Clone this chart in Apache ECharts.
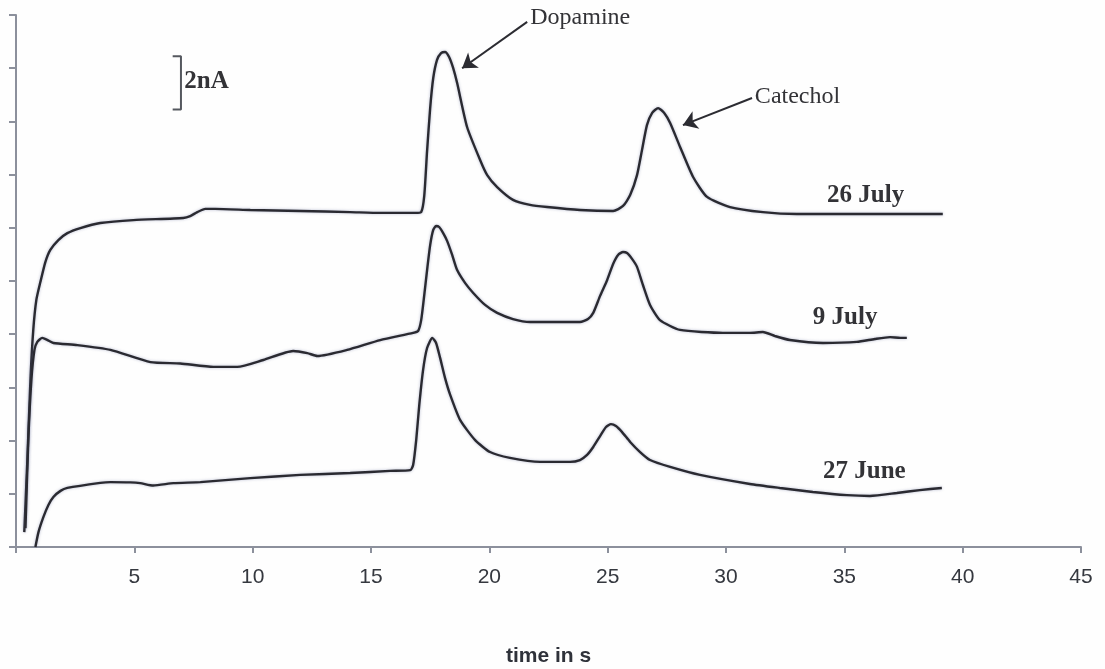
<!DOCTYPE html>
<html>
<head>
<meta charset="utf-8">
<script src="https://cdn.jsdelivr.net/npm/echarts@6/dist/echarts.min.js"></script>
<style>
  html, body { margin: 0; padding: 0; background: #fefefe; }
  #chart { width: 1105px; height: 669px; }
</style>
</head>
<body>
<div id="chart"></div>
<script>
// Chromatograms: detector current (nA) against time (s), three measurement days.
const xTicks = [0, 5, 10, 15, 20, 25, 30, 35, 40, 45];

const july26 = [
  [0.35, 0.56], [0.48, 3.27], [0.61, 6.28], [0.73, 8.16], [0.86, 9.29], [1.03, 9.96],
  [1.24, 10.71], [1.45, 11.17], [1.79, 11.54], [2.17, 11.80], [2.72, 11.99], [3.56, 12.18],
  [4.96, 12.29], [7.07, 12.37], [7.36, 12.44], [7.66, 12.59], [8.00, 12.71], [8.42, 12.71],
  [9.90, 12.67], [12.01, 12.63], [14.12, 12.59], [15.39, 12.56], [16.87, 12.56], [17.12, 12.59],
  [17.25, 13.20], [17.37, 14.89], [17.50, 16.50], [17.63, 17.63], [17.79, 18.31], [17.96, 18.57],
  [18.13, 18.61], [18.30, 18.42], [18.47, 18.01], [18.64, 17.44], [19.06, 15.79], [19.61, 14.55],
  [19.91, 13.98], [20.33, 13.53], [21.00, 13.05], [21.72, 12.86], [22.44, 12.78], [23.83, 12.67],
  [25.23, 12.63], [25.65, 12.82], [25.95, 13.23], [26.24, 13.98], [26.45, 14.92], [26.66, 15.86],
  [26.88, 16.32], [27.13, 16.50], [27.39, 16.32], [27.64, 15.94], [28.06, 15.04], [28.61, 13.91],
  [29.20, 13.16], [30.17, 12.78], [31.56, 12.59], [33.00, 12.52], [39.16, 12.52]
];

const july9 = [
  [0.40, 0.71], [0.52, 4.02], [0.65, 6.28], [0.78, 7.41], [0.90, 7.71], [1.11, 7.86],
  [1.33, 7.78], [1.58, 7.67], [2.59, 7.59], [3.99, 7.41], [5.68, 6.95], [6.94, 6.90],
  [8.34, 6.77], [9.35, 6.77], [10.45, 7.03], [11.71, 7.37], [12.31, 7.29], [12.73, 7.18],
  [13.99, 7.41], [15.39, 7.78], [16.78, 8.05], [16.99, 8.12], [17.12, 8.53], [17.25, 9.47],
  [17.37, 10.41], [17.50, 11.35], [17.63, 11.92], [17.75, 12.07], [17.88, 12.03], [18.05, 11.80],
  [18.22, 11.50], [18.43, 10.98], [18.64, 10.41], [18.98, 9.92], [19.32, 9.55], [19.82, 9.10],
  [20.33, 8.80], [21.00, 8.57], [21.72, 8.46], [23.83, 8.46], [24.17, 8.57], [24.39, 8.80],
  [24.68, 9.44], [24.98, 10.04], [25.23, 10.64], [25.44, 10.98], [25.65, 11.09], [25.82, 11.05],
  [26.03, 10.83], [26.24, 10.53], [26.49, 9.85], [26.79, 9.10], [27.21, 8.53], [28.06, 8.16],
  [29.87, 8.05], [31.01, 8.05], [31.56, 8.08], [32.07, 7.93], [32.70, 7.78], [34.10, 7.67],
  [35.53, 7.71], [36.29, 7.82], [36.93, 7.89], [37.36, 7.86], [37.64, 7.86]
];

const june27 = [
  [0.82, 0.00], [0.95, 0.56], [1.16, 1.13], [1.37, 1.58], [1.58, 1.88], [1.88, 2.11],
  [2.17, 2.22], [3.56, 2.41], [3.99, 2.44], [4.83, 2.43], [5.25, 2.40], [5.80, 2.31],
  [6.65, 2.40], [7.79, 2.44], [9.90, 2.59], [12.01, 2.71], [14.12, 2.78], [15.81, 2.86],
  [16.66, 2.89], [16.78, 3.08], [16.91, 4.02], [17.04, 5.34], [17.20, 6.65], [17.37, 7.48],
  [17.59, 7.86], [17.75, 7.67], [17.92, 7.11], [18.13, 6.35], [18.35, 5.71], [18.77, 4.77],
  [19.40, 4.02], [20.03, 3.57], [20.87, 3.35], [22.15, 3.20], [23.41, 3.20], [23.83, 3.27],
  [24.13, 3.46], [24.39, 3.76], [24.68, 4.17], [24.93, 4.51], [25.14, 4.62], [25.35, 4.55],
  [25.61, 4.32], [25.95, 3.95], [26.37, 3.57], [26.79, 3.27], [27.64, 3.01], [28.90, 2.71],
  [31.01, 2.37], [32.28, 2.22], [33.67, 2.07], [35.11, 1.95], [36.08, 1.92], [37.22, 2.03],
  [38.19, 2.14], [39.12, 2.22]
];

const traceNames = ['26 July', '9 July', '27 June'];
const peakNames = ['Dopamine', 'Catechol'];
const scaleLabel = '2nA';

// Annotation anchors in axis units (s, nA)
const traceLabelAt = [[34.27, 13.23], [33.67, 8.61], [34.10, 2.82]];
const peakLabelAt = [[21.73, 19.89], [31.22, 16.92]];
const peakArrows = [
  [[21.60, 19.74], [18.85, 18.00]],
  [[31.10, 16.88], [28.18, 15.86]]
];
const scaleBar = [[6.62, 18.45], [6.97, 18.45], [6.97, 16.45], [6.62, 16.45]];
const scaleLabelAt = [7.11, 17.48];

const chart = echarts.init(document.getElementById('chart'), null, { renderer: 'canvas' });

const traceStyle = {
  color: '#2a2a31',
  width: 2.4,
  shadowColor: 'rgba(95,105,150,0.45)',
  shadowBlur: 3
};

function trace(name, data) {
  return {
    name: name,
    type: 'line',
    data: data,
    showSymbol: false,
    symbol: 'none',
    smooth: 0.2,
    lineStyle: traceStyle,
    silent: true,
    animation: false,
    z: 3
  };
}

const axisGray = '#8c909c';

chart.setOption({
  backgroundColor: '#fefefe',
  animation: false,
  grid: { left: 16, right: 24, top: 15, bottom: 122, outerBoundsMode: 'none' },
  xAxis: {
    type: 'value',
    min: xTicks[0],
    max: xTicks[xTicks.length - 1],
    interval: 5,
    name: 'time in s',
    nameLocation: 'middle',
    nameGap: 99,
    nameTextStyle: {
      fontFamily: 'Liberation Sans',
      fontSize: 21,
      fontWeight: 'bold',
      color: '#2f323a'
    },
    axisLine: { show: true, lineStyle: { color: axisGray, width: 2 } },
    axisTick: { show: true, inside: false, length: 6, lineStyle: { color: axisGray, width: 2 } },
    axisLabel: {
      margin: 20,
      fontFamily: 'Liberation Sans',
      fontSize: 21,
      color: '#35383f',
      formatter: v => (v === 0 ? '' : String(v))
    },
    splitLine: { show: false }
  },
  yAxis: {
    type: 'value',
    min: 0,
    max: 20,
    interval: 2,
    axisLine: { show: true, onZero: false, lineStyle: { color: axisGray, width: 2 } },
    axisTick: { show: true, inside: false, length: 7, lineStyle: { color: axisGray, width: 2 } },
    axisLabel: { show: false },
    splitLine: { show: false }
  },
  series: [
    trace(traceNames[0], july26),
    trace(traceNames[1], july9),
    trace(traceNames[2], june27),
    {
      name: 'scale',
      type: 'line',
      data: scaleBar,
      showSymbol: false,
      symbol: 'none',
      lineStyle: { color: '#55585f', width: 2 },
      silent: true,
      z: 4
    },
    {
      name: 'arrows',
      type: 'lines',
      coordinateSystem: 'cartesian2d',
      data: peakArrows.map(a => ({ coords: a })),
      symbol: ['none', 'arrow'],
      symbolSize: [0, 14],
      lineStyle: { color: '#2c2c32', width: 2, opacity: 1, curveness: 0 },
      itemStyle: { color: '#2c2c32', opacity: 1 },
      silent: true,
      z: 5
    }
  ]
});

// Text annotations placed at their axis positions
const serifBold = 'bold 25px "Liberation Serif", "DejaVu Serif", serif';
const serifRegular = '24px "Liberation Serif", "DejaVu Serif", serif';

function textAt(text, at, font) {
  const p = chart.convertToPixel({ gridIndex: 0 }, at);
  return {
    type: 'text',
    x: p[0],
    y: p[1],
    silent: true,
    z: 10,
    style: {
      text: text,
      font: font,
      fill: '#333337',
      align: 'left',
      verticalAlign: 'middle'
    }
  };
}

const labels = [];
traceNames.forEach((t, i) => labels.push(textAt(t, traceLabelAt[i], serifBold)));
peakNames.forEach((t, i) => labels.push(textAt(t, peakLabelAt[i], serifRegular)));
labels.push(textAt(scaleLabel, scaleLabelAt, serifBold));

chart.setOption({ graphic: labels });
</script>
</body>
</html>
